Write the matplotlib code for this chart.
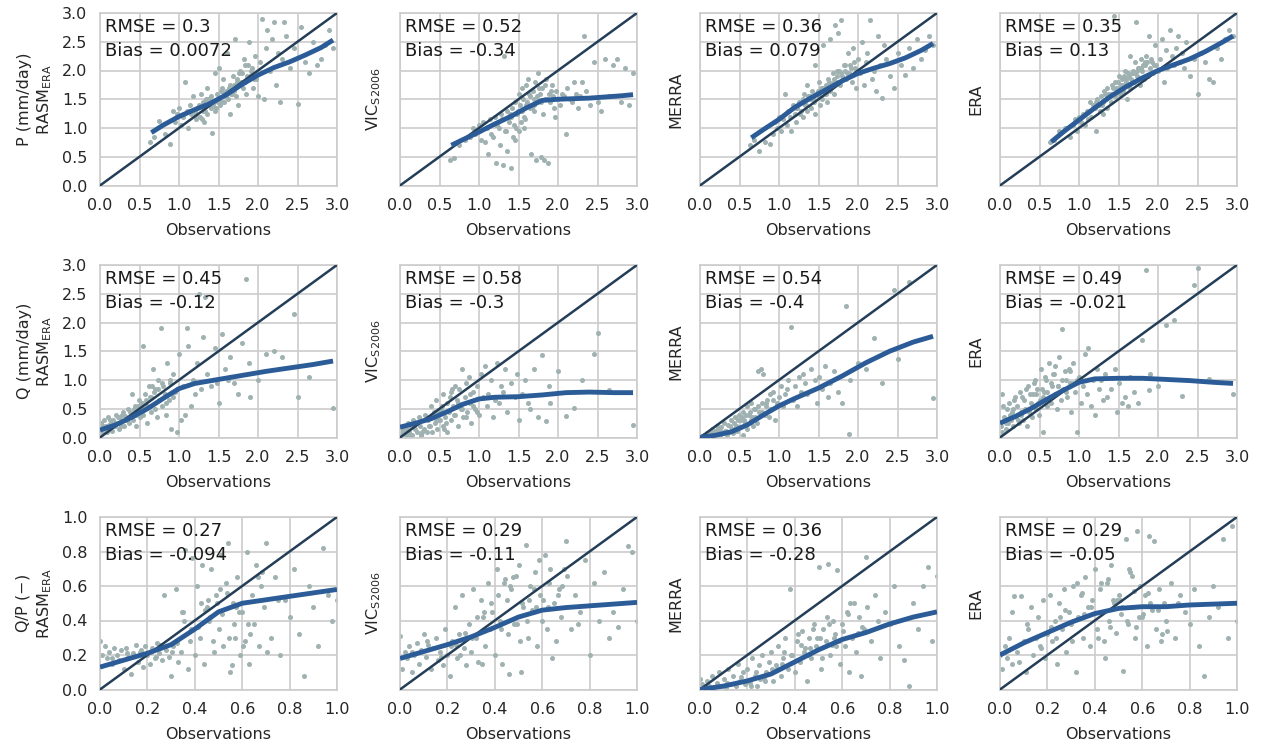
import numpy as np
import matplotlib.pyplot as plt

plt.rcParams['font.family'] = 'DejaVu Sans'
plt.rcParams['mathtext.fontset'] = 'dejavusans'

# ---- P row (mm/day), observations shared by the 4 panels
obs_p = [0.63, 0.68, 0.75, 0.82, 0.88, 0.92, 0.95, 0.98, 1.00, 1.02,
         1.05, 1.07, 1.10, 1.12, 1.14, 1.15, 1.18, 1.20, 1.21, 1.23,
         1.25, 1.26, 1.28, 1.30, 1.31, 1.32, 1.34, 1.35, 1.36, 1.38,
         1.40, 1.41, 1.42, 1.44, 1.45, 1.46, 1.48, 1.50, 1.51, 1.52,
         1.54, 1.55, 1.56, 1.58, 1.60, 1.61, 1.62, 1.64, 1.65, 1.66,
         1.68, 1.70, 1.71, 1.72, 1.74, 1.75, 1.77, 1.78, 1.80, 1.82,
         1.83, 1.85, 1.87, 1.88, 1.90, 1.92, 1.94, 1.96, 1.98, 2.00,
         2.02, 2.05, 2.08, 2.10, 2.12, 2.15, 2.18, 2.20, 2.23, 2.25,
         2.28, 2.30, 2.33, 2.35, 2.40, 2.45, 2.50, 2.55, 2.60, 2.65,
         2.70, 2.75, 2.80, 2.85, 2.90, 2.95, 1.47, 1.57, 1.69, 1.79,
         1.22, 1.33, 1.37, 1.43, 1.49, 1.53, 1.59, 1.63, 1.67, 1.73,
         1.76, 1.81, 1.86, 1.91, 1.95, 1.29, 1.39, 1.57, 1.69, 1.84]
p_rasm = [0.75, 0.85, 1.12, 0.90, 0.73, 1.30, 1.10, 1.25, 1.35, 1.05,
          1.20, 1.80, 1.30, 1.00, 1.40, 1.25, 1.55, 1.30, 1.15, 1.35,
          1.40, 1.20, 1.60, 1.30, 1.45, 1.10, 1.50, 1.25, 1.70, 1.40,
          1.35, 1.55, 0.92, 1.45, 1.95, 1.30, 1.60, 1.50, 2.05, 1.40,
          1.70, 1.45, 1.85, 1.55, 1.65, 2.30, 1.50, 1.75, 1.25, 1.60,
          1.90, 1.70, 2.55, 1.55, 1.85, 1.40, 2.00, 1.75, 1.95, 2.20,
          1.80, 1.60, 2.10, 2.50, 1.90, 2.05, 1.70, 2.25, 1.85, 1.55,
          2.15, 2.90, 1.50, 2.40, 2.70, 2.00, 2.55, 2.85, 1.75, 2.30,
          1.45, 2.20, 2.85, 2.60, 2.05, 2.40, 1.42, 2.75, 2.15, 1.95,
          2.50, 2.10, 2.20, 2.45, 2.70, 2.40, 1.35, 1.60, 1.75, 1.80,
          1.25, 1.30, 1.50, 1.40, 1.45, 1.65, 1.55, 1.70, 1.60, 1.80,
          1.95, 1.70, 1.90, 2.00, 1.85, 1.15, 1.50, 1.45, 1.65, 2.10]
p_vic = [0.45, 0.48, 0.70, 0.80, 0.85, 1.00, 0.90, 0.95, 1.05, 0.80,
         1.10, 0.75, 1.00, 0.55, 1.15, 0.90, 0.85, 1.20, 0.40, 1.05,
         1.00, 0.70, 1.25, 1.15, 0.35, 2.25, 0.95, 1.30, 0.60, 1.10,
         1.20, 0.30, 1.35, 1.05, 0.80, 1.45, 1.25, 1.60, 0.95, 1.40,
         1.70, 1.30, 1.50, 1.15, 1.75, 1.45, 1.85, 1.35, 1.55, 0.55,
         1.65, 1.40, 1.80, 0.45, 1.50, 1.95, 1.60, 0.50, 1.70, 0.45,
         1.50, 1.85, 0.40, 1.60, 1.45, 1.75, 1.55, 1.20, 1.65, 1.50,
         1.40, 1.60, 1.55, 0.90, 1.70, 1.50, 1.45, 1.80, 1.60, 1.35,
         1.55, 1.80, 2.60, 1.65, 1.40, 2.15, 1.45, 1.30, 2.20, 1.55,
         2.10, 2.20, 1.45, 2.05, 1.40, 1.95, 1.00, 1.20, 1.30, 1.45,
         1.05, 0.95, 1.20, 0.85, 1.30, 1.10, 1.40, 1.60, 1.35, 1.55,
         1.70, 1.25, 1.50, 1.65, 1.35, 1.15, 1.25, 1.00, 1.50, 1.75]
p_merra = [0.70, 0.80, 0.60, 0.75, 0.73, 0.90, 1.10, 1.00, 1.20, 0.95,
           1.15, 1.60, 1.05, 1.30, 1.20, 0.95, 1.40, 1.25, 1.10, 1.35,
           1.45, 1.25, 1.30, 1.50, 1.20, 1.60, 1.40, 1.75, 1.30, 1.55,
           1.50, 1.35, 1.65, 1.45, 2.10, 1.25, 1.60, 1.55, 1.80, 1.40,
           1.70, 1.50, 2.45, 1.60, 1.75, 1.45, 1.85, 1.65, 2.55, 1.70,
           1.95, 1.60, 2.80, 1.80, 2.00, 2.65, 1.75, 2.87, 1.90, 2.10,
           2.00, 1.85, 2.30, 1.95, 2.10, 1.80, 2.40, 2.05, 1.70, 2.20,
           1.95, 2.50, 1.75, 2.15, 2.30, 2.87, 1.85, 2.00, 1.65, 2.60,
           2.10, 1.52, 2.45, 2.20, 1.90, 1.69, 2.30, 2.10, 1.92, 2.40,
           2.04, 2.55, 2.20, 2.35, 2.60, 2.45, 1.60, 1.70, 1.85, 1.95,
           1.35, 1.40, 1.55, 1.50, 1.65, 1.70, 1.60, 1.80, 1.75, 1.90,
           2.00, 1.85, 1.95, 2.05, 2.15, 1.45, 1.55, 1.65, 1.80, 2.10]
p_era = [0.75, 0.80, 0.95, 1.00, 0.85, 1.05, 1.15, 0.95, 1.20, 1.10,
         1.25, 1.05, 1.30, 1.15, 1.45, 1.20, 1.40, 1.35, 0.95, 1.50,
         1.40, 1.30, 1.55, 1.45, 1.25, 1.65, 1.50, 1.35, 1.70, 1.55,
         1.60, 1.45, 1.75, 2.95, 1.55, 1.80, 1.65, 1.70, 1.90, 1.60,
         1.75, 1.85, 1.65, 2.00, 1.80, 1.50, 1.95, 1.70, 2.25, 1.85,
         2.00, 1.80, 2.15, 2.85, 1.90, 2.05, 1.75, 2.20, 2.00, 1.85,
         2.10, 2.25, 1.90, 2.60, 2.05, 2.15, 1.95, 2.45, 2.10, 2.00,
         2.20, 2.55, 1.80, 2.35, 2.05, 2.70, 2.25, 2.10, 2.40, 2.60,
         2.15, 2.30, 2.05, 2.50, 1.90, 2.20, 1.60, 2.30, 2.15, 1.85,
         1.80, 2.40, 2.20, 2.55, 2.70, 2.60, 1.70, 1.75, 1.95, 2.05,
         1.45, 1.60, 1.60, 1.70, 1.80, 1.75, 1.85, 1.90, 1.95, 2.00,
         2.05, 2.10, 2.15, 2.20, 2.10, 1.40, 1.55, 1.90, 1.95, 2.15]

# ---- Q row (mm/day)
obs_q = [0.01, 0.03, 0.05, 0.07, 0.09, 0.10, 0.12, 0.14, 0.15, 0.17,
         0.19, 0.20, 0.22, 0.24, 0.25, 0.27, 0.29, 0.30, 0.32, 0.34,
         0.35, 0.37, 0.39, 0.40, 0.42, 0.44, 0.45, 0.47, 0.49, 0.50,
         0.52, 0.54, 0.55, 0.57, 0.59, 0.60, 0.62, 0.64, 0.65, 0.67,
         0.69, 0.70, 0.72, 0.74, 0.75, 0.77, 0.79, 0.80, 0.82, 0.84,
         0.85, 0.87, 0.89, 0.90, 0.92, 0.95, 0.97, 1.00, 1.02, 1.05,
         1.08, 1.10, 1.12, 1.15, 1.18, 1.20, 1.23, 1.25, 1.28, 1.30,
         1.33, 1.35, 1.40, 1.45, 1.48, 1.50, 1.55, 1.58, 1.62, 1.65,
         1.70, 1.75, 1.80, 1.85, 1.88, 1.90, 2.00, 2.10, 2.20, 2.30,
         2.45, 2.50, 2.65, 2.95, 0.04, 0.13, 0.18, 0.23, 0.28, 0.33,
         0.38, 0.43, 0.48, 0.53, 0.58, 0.63, 0.68, 0.73, 0.78, 0.83,
         0.88, 0.93, 0.98, 0.02, 0.08, 0.16, 0.26, 0.46, 0.56, 0.66]
q_rasm = [0.25, 0.15, 0.30, 0.20, 0.10, 0.35, 0.22, 0.28, 0.12, 0.30,
          0.20, 0.40, 0.25, 0.15, 0.35, 0.28, 0.45, 0.20, 0.38, 0.30,
          0.50, 0.25, 0.40, 0.75, 0.30, 0.55, 0.20, 0.45, 0.65, 0.35,
          0.60, 1.60, 0.40, 0.75, 0.25, 0.55, 0.90, 0.45, 0.70, 1.20,
          0.50, 0.85, 0.35, 1.00, 0.65, 1.90, 0.55, 0.90, 0.75, 0.40,
          1.30, 0.65, 0.95, 0.15, 1.10, 0.80, 0.10, 1.45, 0.30, 0.90,
          0.40, 1.90, 1.60, 0.55, 1.00, 0.75, 1.30, 2.50, 0.85, 1.75,
          2.45, 1.10, 0.90, 1.55, 0.95, 0.60, 1.80, 1.20, 1.00, 1.40,
          0.95, 0.75, 1.65, 2.75, 1.30, 0.70, 1.00, 1.45, 1.50, 1.40,
          2.15, 0.70, 1.05, 0.52, 0.20, 0.30, 0.25, 0.35, 0.40, 0.30,
          0.45, 0.50, 0.55, 0.60, 0.65, 0.70, 0.80, 0.85, 0.95, 0.60,
          1.00, 0.70, 0.85, 0.10, 0.15, 0.25, 0.20, 0.40, 0.50, 0.90]
q_vic = [0.05, 0.10, 0.20, 0.05, 0.15, 0.25, 0.10, 0.20, 0.05, 0.30,
         0.15, 0.25, 0.10, 0.35, 0.20, 0.05, 0.30, 0.15, 0.40, 0.10,
         0.30, 0.20, 0.55, 0.10, 0.40, 0.25, 0.65, 0.15, 0.45, 0.30,
         0.50, 0.20, 0.75, 0.35, 0.60, 0.10, 0.45, 0.80, 0.30, 0.55,
         0.90, 0.40, 0.65, 0.20, 0.85, 0.50, 1.20, 0.35, 0.70, 0.95,
         0.45, 1.05, 0.60, 0.25, 0.80, 0.50, 0.90, 0.40, 1.10, 0.70,
         1.25, 0.55, 0.75, 1.00, 0.35, 0.65, 1.30, 0.60, 0.90, 0.80,
         1.20, 0.45, 0.95, 0.70, 1.10, 0.30, 0.75, 1.00, 0.60, 0.50,
         1.20, 0.35, 1.44, 0.28, 0.90, 0.60, 1.15, 0.38, 0.51, 1.00,
         1.46, 1.82, 0.82, 0.22, 0.15, 0.05, 0.20, 0.25, 0.10, 0.35,
         0.20, 0.45, 0.30, 0.55, 0.25, 0.70, 0.40, 0.60, 0.50, 0.35,
         0.75, 0.55, 0.45, 0.08, 0.12, 0.18, 0.05, 0.28, 0.15, 0.85]
q_merra = [0.00, 0.02, 0.05, 0.01, 0.08, 0.03, 0.10, 0.05, 0.15, 0.02,
           0.12, 0.06, 0.20, 0.10, 0.04, 0.18, 0.08, 0.25, 0.12, 0.05,
           0.22, 0.10, 0.30, 0.15, 0.08, 0.35, 0.20, 0.12, 0.40, 0.18,
           0.30, 0.05, 0.45, 0.25, 0.55, 0.15, 0.40, 0.30, 0.60, 0.20,
           0.35, 0.50, 0.25, 1.15, 0.45, 1.20, 0.60, 1.10, 0.40, 0.55,
           0.65, 0.35, 0.75, 0.50, 0.80, 0.30, 0.60, 0.70, 0.90, 0.55,
           0.75, 0.85, 1.00, 1.93, 0.65, 0.90, 0.55, 1.05, 0.80, 1.10,
           0.95, 0.75, 1.20, 1.00, 0.60, 1.05, 0.85, 1.25, 0.70, 0.95,
           1.15, 0.80, 0.60, 2.28, 0.06, 1.00, 1.30, 1.20, 1.73, 0.95,
           2.56, 1.36, 2.71, 0.69, 0.02, 0.06, 0.10, 0.15, 0.08, 0.12,
           0.20, 0.25, 0.30, 0.35, 0.40, 0.45, 0.50, 0.55, 0.45, 0.60,
           0.50, 0.65, 0.55, 0.01, 0.04, 0.03, 0.10, 0.20, 0.30, 0.35]
q_era = [0.20, 0.75, 0.35, 0.15, 0.50, 0.25, 0.60, 0.30, 0.45, 0.20,
         0.70, 0.35, 0.55, 0.25, 0.80, 0.40, 0.30, 0.65, 0.50, 0.20,
         0.90, 0.45, 0.60, 0.35, 0.75, 1.00, 0.50, 0.85, 0.40, 0.65,
         1.20, 0.09, 0.70, 1.05, 0.55, 0.80, 1.30, 0.60, 0.95, 1.10,
         0.75, 1.25, 0.50, 0.90, 1.40, 0.65, 1.88, 0.85, 1.15, 1.00,
         0.70, 1.20, 0.95, 0.45, 1.30, 0.80, 0.09, 1.05, 0.60, 0.90,
         1.45, 0.75, 1.55, 0.55, 1.00, 0.40, 1.20, 0.85, 1.00, 0.65,
         1.10, 0.70, 0.85, 1.20, 0.45, 0.95, 0.60, 0.70, 0.54, 1.05,
         0.80, 0.60, 1.70, 2.91, 0.83, 1.10, 0.90, 1.96, 2.04, 0.72,
         2.65, 2.94, 1.02, 0.76, 0.55, 0.40, 0.65, 0.30, 0.70, 0.85,
         0.75, 0.95, 0.60, 0.85, 1.00, 0.70, 1.10, 0.90, 1.00, 0.80,
         1.15, 0.95, 1.00, 0.10, 0.25, 0.50, 0.45, 0.75, 0.80, 0.90]

# ---- Q/P row (-)
obs_r = [0.00, 0.01, 0.02, 0.03, 0.04, 0.05, 0.06, 0.07, 0.08, 0.09,
         0.10, 0.11, 0.12, 0.13, 0.14, 0.15, 0.16, 0.17, 0.18, 0.19,
         0.20, 0.21, 0.22, 0.23, 0.24, 0.25, 0.26, 0.27, 0.28, 0.29,
         0.30, 0.31, 0.32, 0.33, 0.34, 0.35, 0.36, 0.37, 0.38, 0.39,
         0.40, 0.41, 0.42, 0.43, 0.44, 0.45, 0.46, 0.47, 0.48, 0.49,
         0.50, 0.51, 0.52, 0.53, 0.54, 0.55, 0.56, 0.57, 0.58, 0.59,
         0.60, 0.61, 0.62, 0.63, 0.64, 0.65, 0.66, 0.67, 0.68, 0.69,
         0.70, 0.72, 0.74, 0.76, 0.78, 0.80, 0.82, 0.84, 0.86, 0.88,
         0.90, 0.92, 0.94, 0.96, 0.98, 1.00, 0.215, 0.255, 0.305, 0.345,
         0.385, 0.425, 0.465, 0.505, 0.545, 0.585, 0.625, 0.665, 0.705, 0.75,
         0.355, 0.415, 0.455, 0.475, 0.515, 0.535, 0.565, 0.575, 0.635, 0.685,
         0.05, 0.115, 0.175, 0.235, 0.275, 0.325, 0.445, 0.495, 0.555, 0.605]
r_rasm = [0.28, 0.20, 0.25, 0.18, 0.22, 0.15, 0.24, 0.20, 0.17, 0.23,
          0.12, 0.24, 0.19, 0.09, 0.21, 0.26, 0.16, 0.22, 0.13, 0.25,
          0.20, 0.15, 0.24, 0.18, 0.27, 0.21, 0.17, 0.55, 0.23, 0.19,
          0.08, 0.25, 0.58, 0.16, 0.22, 0.45, 0.81, 0.12, 0.28, 0.76,
          0.20, 0.60, 0.30, 0.72, 0.15, 0.48, 0.40, 0.70, 0.22, 0.55,
          0.35, 0.78, 0.25, 0.62, 0.85, 0.10, 0.50, 0.30, 0.65, 0.20,
          0.45, 0.28, 0.80, 0.15, 0.55, 0.38, 0.72, 0.25, 0.60, 0.48,
          0.85, 0.30, 0.65, 0.20, 0.52, 0.42, 0.70, 0.32, 0.08, 0.60,
          0.48, 0.25, 0.82, 0.55, 0.40, 0.52, 0.22, 0.26, 0.22, 0.45,
          0.35, 0.50, 0.42, 0.58, 0.30, 0.45, 0.38, 0.65, 0.22, 0.52,
          0.40, 0.36, 0.52, 0.28, 0.44, 0.56, 0.38, 0.48, 0.32, 0.68,
          0.18, 0.21, 0.23, 0.19, 0.24, 0.27, 0.46, 0.50, 0.14, 0.25]
r_vic = [0.31, 0.12, 0.22, 0.18, 0.25, 0.10, 0.20, 0.27, 0.15, 0.23,
         0.32, 0.19, 0.26, 0.12, 0.24, 0.30, 0.17, 0.22, 0.14, 0.35,
         0.20, 0.08, 0.28, 0.48, 0.18, 0.32, 0.55, 0.24, 0.14, 0.38,
         0.22, 0.58, 0.30, 0.16, 0.52, 0.42, 0.25, 0.62, 0.35, 0.45,
         0.20, 0.70, 0.40, 0.15, 0.62, 0.52, 0.09, 0.58, 0.38, 0.66,
         0.72, 0.10, 0.48, 0.84, 0.30, 0.60, 0.45, 0.68, 0.25, 0.55,
         0.40, 0.78, 0.35, 0.62, 0.18, 0.50, 0.28, 0.58, 0.42, 0.70,
         0.86, 0.35, 0.55, 0.45, 0.75, 0.20, 0.62, 0.40, 0.68, 0.30,
         0.45, 0.36, 0.58, 0.83, 0.80, 0.40, 0.25, 0.20, 0.30, 0.15,
         0.50, 0.35, 0.60, 0.28, 0.52, 0.75, 0.48, 0.55, 0.66, 0.38,
         0.45, 0.55, 0.32, 0.65, 0.50, 0.40, 0.58, 0.48, 0.70, 0.60,
         0.22, 0.28, 0.19, 0.26, 0.33, 0.42, 0.64, 0.38, 0.46, 0.52]
r_merra = [0.06, 0.03, 0.01, 0.05, 0.02, 0.08, 0.00, 0.04, 0.10, 0.02,
           0.06, 0.01, 0.12, 0.03, 0.08, 0.02, 0.15, 0.05, 0.10, 0.03,
           0.12, 0.04, 0.18, 0.08, 0.02, 0.14, 0.20, 0.06, 0.10, 0.16,
           0.22, 0.05, 0.14, 0.25, 0.08, 0.18, 0.30, 0.12, 0.58, 0.20,
           0.10, 0.28, 0.16, 0.34, 0.22, 0.05, 0.30, 0.18, 0.38, 0.25,
           0.71, 0.12, 0.35, 0.28, 0.73, 0.20, 0.40, 0.32, 0.69, 0.15,
           0.38, 0.25, 0.45, 0.10, 0.30, 0.50, 0.22, 0.42, 0.08, 0.35,
           0.77, 0.28, 0.55, 0.18, 0.45, 0.38, 0.60, 0.25, 0.17, 0.02,
           0.50, 0.35, 0.60, 0.71, 0.28, 0.66, 0.02, 0.06, 0.12, 0.15,
           0.20, 0.26, 0.24, 0.30, 0.38, 0.28, 0.44, 0.33, 0.48, 0.40,
           0.22, 0.32, 0.20, 0.35, 0.18, 0.42, 0.30, 0.25, 0.50, 0.36,
           0.00, 0.04, 0.07, 0.10, 0.05, 0.12, 0.24, 0.30, 0.26, 0.34]
r_era = [0.20, 0.12, 0.25, 0.18, 0.30, 0.15, 0.54, 0.22, 0.16, 0.54,
         0.28, 0.10, 0.35, 0.48, 0.20, 0.30, 0.42, 0.25, 0.52, 0.18,
         0.32, 0.55, 0.28, 0.40, 0.15, 0.50, 0.35, 0.58, 0.22, 0.45,
         0.38, 0.60, 0.10, 0.42, 0.55, 0.30, 0.65, 0.48, 0.25, 0.52,
         0.70, 0.35, 0.58, 0.45, 0.28, 0.62, 0.40, 0.72, 0.50, 0.33,
         0.55, 0.44, 0.11, 0.87, 0.38, 0.68, 0.48, 0.30, 0.92, 0.60,
         0.42, 0.55, 0.25, 0.89, 0.46, 0.86, 0.35, 0.58, 0.28, 0.50,
         0.40, 0.62, 0.30, 0.55, 0.45, 0.38, 0.58, 0.25, 0.08, 0.42,
         0.60, 0.48, 0.87, 0.30, 0.95, 0.40, 0.36, 0.42, 0.28, 0.56,
         0.48, 0.62, 0.36, 0.52, 0.70, 0.42, 0.56, 0.46, 0.34, 0.50,
         0.44, 0.30, 0.64, 0.52, 0.48, 0.40, 0.57, 0.36, 0.50, 0.32,
         0.45, 0.38, 0.24, 0.30, 0.46, 0.62, 0.18, 0.52, 0.66, 0.44]

# ---- smoothed (lowess) curves
fit_x_p = [0.65, 0.8, 1.0, 1.2, 1.4, 1.6, 1.8, 2.0, 2.2, 2.4, 2.6, 2.8, 2.95]
fit_p_rasm = [0.92, 1.05, 1.2, 1.32, 1.43, 1.58, 1.76, 1.92, 2.05, 2.15, 2.27, 2.4, 2.53]
fit_p_vic = [0.70, 0.80, 0.93, 1.07, 1.2, 1.35, 1.48, 1.5, 1.51, 1.52, 1.54, 1.56, 1.58]
fit_p_merra = [0.83, 0.97, 1.15, 1.36, 1.52, 1.67, 1.82, 1.95, 2.04, 2.12, 2.22, 2.35, 2.47]
fit_p_era = [0.76, 0.93, 1.14, 1.35, 1.55, 1.72, 1.87, 2.0, 2.1, 2.2, 2.33, 2.48, 2.6]

fit_x_q = [0.0, 0.2, 0.4, 0.6, 0.8, 1.0, 1.2, 1.5, 1.8, 2.1, 2.4, 2.7, 2.95]
fit_q_rasm = [0.13, 0.22, 0.35, 0.5, 0.68, 0.85, 0.94, 1.01, 1.08, 1.15, 1.21, 1.27, 1.33]
fit_q_vic = [0.18, 0.25, 0.33, 0.45, 0.58, 0.67, 0.7, 0.71, 0.74, 0.78, 0.79, 0.78, 0.78]
fit_q_merra = [0.0, 0.04, 0.1, 0.22, 0.39, 0.55, 0.68, 0.86, 1.07, 1.3, 1.5, 1.66, 1.76]
fit_q_era = [0.25, 0.37, 0.51, 0.67, 0.82, 0.96, 1.02, 1.03, 1.03, 1.01, 0.99, 0.96, 0.94]

fit_x_r = [0.0, 0.1, 0.2, 0.3, 0.4, 0.5, 0.6, 0.7, 0.8, 0.9, 1.0]
fit_r_rasm = [0.13, 0.17, 0.21, 0.26, 0.35, 0.45, 0.50, 0.52, 0.54, 0.56, 0.58]
fit_r_vic = [0.18, 0.22, 0.26, 0.305, 0.36, 0.42, 0.46, 0.475, 0.485, 0.495, 0.505]
fit_r_merra = [0.0, 0.02, 0.05, 0.09, 0.16, 0.23, 0.29, 0.33, 0.38, 0.42, 0.45]
fit_r_era = [0.2, 0.27, 0.33, 0.39, 0.44, 0.47, 0.48, 0.48, 0.49, 0.495, 0.5]

rmse = [['0.3', '0.52', '0.36', '0.35'],
        ['0.45', '0.58', '0.54', '0.49'],
        ['0.27', '0.29', '0.36', '0.29']]
bias = [['0.0072', '-0.34', '0.079', '0.13'],
        ['-0.12', '-0.3', '-0.4', '-0.021'],
        ['-0.094', '-0.11', '-0.28', '-0.05']]

models = ['RASM$_{\\mathrm{ERA}}$', 'VIC$_{\\mathrm{S2006}}$', 'MERRA', 'ERA']
variables = ['P (mm/day)', 'Q (mm/day)', 'Q/P ($-$)']
limits = [3.0, 3.0, 1.0]
steps = [0.5, 0.5, 0.2]

obs_rows = [obs_p, obs_q, obs_r]
sim_rows = [[p_rasm, p_vic, p_merra, p_era],
            [q_rasm, q_vic, q_merra, q_era],
            [r_rasm, r_vic, r_merra, r_era]]
fit_x_rows = [fit_x_p, fit_x_q, fit_x_r]
fit_rows = [[fit_p_rasm, fit_p_vic, fit_p_merra, fit_p_era],
            [fit_q_rasm, fit_q_vic, fit_q_merra, fit_q_era],
            [fit_r_rasm, fit_r_vic, fit_r_merra, fit_r_era]]

W, H = 1265, 750
fig = plt.figure(figsize=(W / 100, H / 100), dpi=100)

col_left = [100, 400, 700, 1000]
row_top = [13, 265, 517]
aw, ah = 237, 172.5

for i in range(3):
    lim = limits[i]
    ticks = np.arange(0, lim + 1e-9, steps[i])
    for j in range(4):
        ax = fig.add_axes([col_left[j] / W, 1 - (row_top[i] + ah) / H, aw / W, ah / H])
        ax.set_facecolor('white')
        ax.grid(True, color='#cccccc', linewidth=1.2)
        ax.set_axisbelow(True)
        for s in ax.spines.values():
            s.set_color('#cccccc')
            s.set_linewidth(1.2)
        ax.tick_params(length=0, labelsize=11.5, colors='#262626', pad=9)

        ax.scatter(obs_rows[i], sim_rows[i][j], s=13, color='#9fb1b1',
                   linewidths=0, zorder=2)
        ax.plot([0, lim], [0, lim], color='#243e58', lw=1.8, zorder=3)
        ax.plot(fit_x_rows[i], fit_rows[i][j], color='#2b5c97', lw=3.5,
                solid_capstyle='butt', zorder=4)

        ax.set_xlim(0, lim)
        ax.set_ylim(0, lim)
        ax.set_xticks(ticks)
        ax.set_yticks(ticks)
        ax.set_xticklabels(['%.1f' % t for t in ticks])
        if j == 0:
            ax.set_yticklabels(['%.1f' % t for t in ticks])
            ax.set_ylabel(variables[i] + '\n' + models[j], fontsize=11.5,
                          color='#262626', labelpad=6)
        else:
            ax.set_yticklabels([])
            ax.set_ylabel(models[j], fontsize=11.5, color='#262626', labelpad=3)
        ax.set_xlabel('Observations', fontsize=11.5, color='#262626', labelpad=7)

        ax.text(0.02, 0.97, 'RMSE = %s\nBias = %s' % (rmse[i][j], bias[i][j]),
                transform=ax.transAxes, ha='left', va='top', fontsize=13,
                color='#1a1a1a', linespacing=1.45, zorder=5)

fig.savefig('out.png', dpi=100, facecolor='white')
